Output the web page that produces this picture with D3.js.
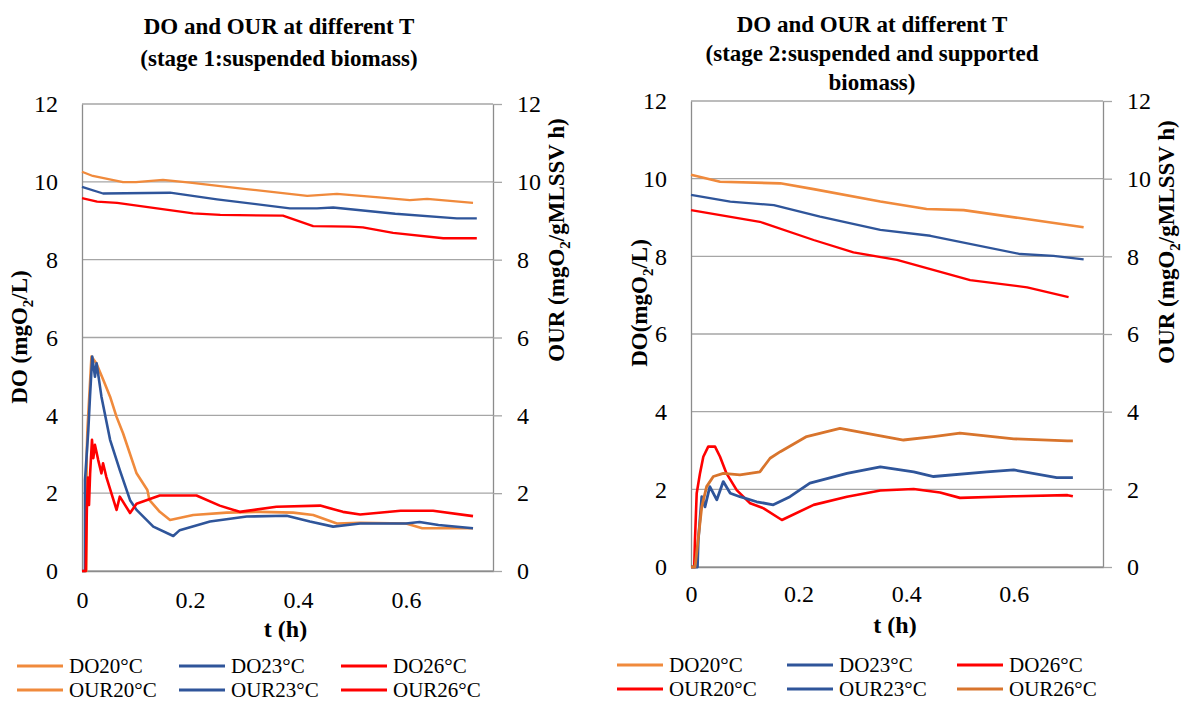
<!DOCTYPE html>
<html>
<head>
<meta charset="utf-8">
<script src="https://cdn.jsdelivr.net/npm/d3@7"></script>
<style>
  body { margin: 0; background: #fff; }
  svg { display: block; }
  svg text { font-family: "Liberation Serif", "Times New Roman", serif !important; }
</style>
</head>
<body>
<svg id="chart" width="1184" height="702"></svg>
<script>
// ---- data (t in h, value) ----
// stage 1 : suspended biomass
const s1DO20 = [[0,10.26],[0.02,10.15],[0.076,9.99],[0.10,9.99],[0.15,10.05],[0.20,9.98],[0.30,9.82],[0.417,9.64],[0.472,9.69],[0.55,9.60],[0.607,9.53],[0.639,9.56],[0.724,9.46]];
const s1DO23 = [[0,9.87],[0.039,9.70],[0.163,9.72],[0.25,9.55],[0.385,9.32],[0.435,9.32],[0.465,9.34],[0.58,9.18],[0.694,9.06],[0.731,9.06]];
const s1DO26 = [[0,9.58],[0.028,9.49],[0.065,9.46],[0.206,9.19],[0.256,9.15],[0.372,9.13],[0.428,8.86],[0.496,8.85],[0.52,8.83],[0.576,8.69],[0.669,8.55],[0.731,8.55]];
const s1OUR20 = [[0,0],[0.008,0],[0.0087,3.0],[0.010,3.62],[0.0175,5.51],[0.0265,5.34],[0.0395,4.91],[0.052,4.48],[0.064,3.96],[0.076,3.54],[0.101,2.51],[0.121,2.08],[0.125,1.82],[0.144,1.52],[0.163,1.31],[0.206,1.44],[0.268,1.50],[0.33,1.52],[0.391,1.50],[0.428,1.44],[0.472,1.22],[0.515,1.24],[0.60,1.22],[0.63,1.10],[0.724,1.10]];
const s1OUR23 = [[0,0],[0.0055,0],[0.0056,2.34],[0.0117,3.62],[0.0148,4.48],[0.019,5.51],[0.024,4.99],[0.027,5.34],[0.036,4.48],[0.052,3.37],[0.070,2.59],[0.089,1.82],[0.101,1.57],[0.132,1.14],[0.169,0.90],[0.181,1.05],[0.237,1.27],[0.305,1.40],[0.379,1.42],[0.422,1.27],[0.465,1.14],[0.515,1.22],[0.60,1.22],[0.625,1.26],[0.66,1.18],[0.724,1.10]];
const s1OUR26 = [[0,0],[0.007,0],[0.009,1.6],[0.011,2.4],[0.013,1.7],[0.015,2.5],[0.017,3.0],[0.0185,3.37],[0.021,2.9],[0.024,3.24],[0.03,2.85],[0.036,2.51],[0.039,2.77],[0.045,2.42],[0.064,1.57],[0.070,1.91],[0.089,1.49],[0.101,1.73],[0.144,1.94],[0.212,1.94],[0.255,1.68],[0.292,1.52],[0.36,1.65],[0.441,1.68],[0.483,1.52],[0.515,1.45],[0.59,1.55],[0.65,1.55],[0.724,1.41]];

// stage 2 : suspended and supported biomass
const s2DO20 = [[0,10.10],[0.054,9.92],[0.166,9.88],[0.228,9.73],[0.352,9.41],[0.438,9.22],[0.507,9.19],[0.614,8.98],[0.73,8.75]];
const s2DO23 = [[0,9.58],[0.073,9.41],[0.154,9.32],[0.24,9.02],[0.352,8.68],[0.445,8.53],[0.612,8.06],[0.674,8.01],[0.73,7.92]];
const s2DO26 = [[0,9.19],[0.128,8.89],[0.228,8.42],[0.302,8.10],[0.383,7.91],[0.519,7.39],[0.625,7.20],[0.702,6.95]];
const s2OUR20 = [[0,0],[0.006,0],[0.0074,0.7],[0.0106,1.9],[0.0167,2.41],[0.0229,2.84],[0.032,3.10],[0.0447,3.10],[0.054,2.84],[0.066,2.41],[0.085,1.98],[0.11,1.64],[0.135,1.51],[0.169,1.21],[0.228,1.60],[0.29,1.81],[0.352,1.97],[0.414,2.01],[0.463,1.92],[0.50,1.78],[0.60,1.82],[0.70,1.85],[0.71,1.82]];
const s2OUR23 = [[0,0],[0.012,0],[0.0136,0.7],[0.02,1.81],[0.026,1.55],[0.035,2.07],[0.048,1.73],[0.06,2.20],[0.073,1.90],[0.091,1.81],[0.122,1.68],[0.153,1.60],[0.184,1.81],[0.221,2.16],[0.29,2.41],[0.352,2.58],[0.414,2.45],[0.451,2.33],[0.55,2.45],[0.60,2.50],[0.68,2.30],[0.71,2.30]];
const s2OUR26 = [[0,0],[0.0074,0],[0.010,0.3],[0.02,1.55],[0.029,2.07],[0.0415,2.33],[0.06,2.41],[0.091,2.37],[0.128,2.45],[0.147,2.80],[0.166,2.97],[0.215,3.36],[0.277,3.57],[0.327,3.44],[0.395,3.27],[0.451,3.36],[0.50,3.45],[0.60,3.30],[0.70,3.25],[0.71,3.25]];

const yTicks = [0, 2, 4, 6, 8, 10, 12];
const xTicks = [0, 0.2, 0.4, 0.6];

const orange = "#F08A3C", blue = "#2F559A", red = "#FF0000", darkOrange = "#D8742C";
const serif = "'Liberation Serif', 'Times New Roman', serif";

const svg = d3.select("#chart");

function drawPanel(p) {
  const x = d3.scaleLinear().domain([0, p.xMax]).range([p.left, p.right]);
  const y = d3.scaleLinear().domain([0, 12]).range([p.bottom, p.top]);
  const g = svg.append("g").style("font-family", serif);

  // gridlines
  g.selectAll(".grid").data(yTicks).enter().append("line")
    .attr("x1", p.left).attr("x2", p.right)
    .attr("y1", d => y(d)).attr("y2", d => y(d))
    .attr("stroke", "#A6A6A6").attr("stroke-width", 1.3);

  // axes
  const ax = g.append("g").attr("transform", "translate(" + p.left + ",0)")
    .call(d3.axisLeft(y).tickValues(yTicks).tickSize(0).tickPadding(24));
  const ax2 = g.append("g").attr("transform", "translate(" + p.right + ",0)")
    .call(d3.axisRight(y).tickValues(yTicks).tickSizeInner(9).tickSizeOuter(0).tickPadding(15));
  const ax3 = g.append("g").attr("transform", "translate(0," + p.bottom + ")")
    .call(d3.axisBottom(x).tickValues(xTicks).tickFormat(d => d === 0 ? "0" : d3.format(".1f")(d)).tickSize(0).tickPadding(p.xPad));
  [ax, ax2, ax3].forEach(a => {
    a.attr("font-family", null).style("font-family", serif);
    a.select(".domain").attr("stroke", "#8C8C8C").attr("stroke-width", 1.3);
    a.selectAll(".tick line").attr("stroke", "#A6A6A6").attr("stroke-width", 1.3);
    a.selectAll("text").style("font-family", serif).attr("font-size", 24).attr("fill", "#000");
  });

  // series
  const line = d3.line().x(d => x(d[0])).y(d => y(d[1]));
  p.series.forEach(s => {
    g.append("path").datum(s.data)
      .attr("d", line)
      .attr("fill", "none")
      .attr("stroke", s.color)
      .attr("stroke-width", s.width)
      .attr("stroke-linejoin", "round");
  });

  // title
  const t = g.append("text").attr("text-anchor", "middle")
    .attr("font-weight", "bold").attr("font-size", 23);
  p.title.forEach((ln, i) => {
    t.append("tspan").attr("x", p.titleX).attr("y", p.titleY + i * p.titleDy).text(ln);
  });

  // axis titles
  function rotTitle(tx, ty, parts) {
    const el = g.append("text").attr("transform", "translate(" + tx + "," + ty + ") rotate(-90)")
      .attr("text-anchor", "middle").attr("font-weight", "bold").attr("font-size", 23);
    parts.forEach(pt => {
      const ts = el.append("tspan").text(pt[0]);
      if (pt[1]) ts.attr("font-size", 15).attr("dy", 6);
      if (pt[2]) ts.attr("dy", -6);
    });
  }
  rotTitle(p.ylX, p.ylY, p.ylParts);
  rotTitle(p.yrX, p.yrY, [["OUR (mgO"], ["2", true], ["/gMLSSV h)", false, true]]);

  g.append("text").attr("x", (p.left + p.right) / 2 - 2).attr("y", p.bottom + p.xtY)
    .attr("text-anchor", "middle").attr("font-weight", "bold").attr("font-size", 24).text("t (h)");

  // legend
  p.legend.forEach((l, i) => {
    const col = i % 3, row = Math.floor(i / 3);
    const lx = p.legX + col * p.legDx, ly = p.legY + row * p.legDy;
    g.append("line").attr("x1", lx).attr("x2", lx + 46).attr("y1", ly).attr("y2", ly)
      .attr("stroke", l.color).attr("stroke-width", 3);
    g.append("text").attr("x", lx + 52).attr("y", ly + 7).attr("font-size", 21).text(l.name);
  });
}

drawPanel({
  left: 82, right: 493, top: 104, bottom: 571, xMax: 0.761, xPad: 20, xtY: 66,
  title: ["DO and OUR at different T", "(stage 1:suspended biomass)"],
  titleX: 279, titleY: 34, titleDy: 32,
  ylX: 27, ylY: 337, ylParts: [["DO (mgO"], ["2", true], ["/L)", false, true]],
  yrX: 564, yrY: 240,
  series: [
    { data: s1DO20, color: orange, width: 2.3 },
    { data: s1DO23, color: blue, width: 2.3 },
    { data: s1DO26, color: red, width: 2.3 },
    { data: s1OUR20, color: orange, width: 2.6 },
    { data: s1OUR23, color: blue, width: 2.6 },
    { data: s1OUR26, color: red, width: 2.6 }
  ],
  legX: 17, legY: 666, legDx: 162, legDy: 24,
  legend: [
    { name: "DO20°C", color: orange }, { name: "DO23°C", color: blue }, { name: "DO26°C", color: red },
    { name: "OUR20°C", color: orange }, { name: "OUR23°C", color: blue }, { name: "OUR26°C", color: red }
  ]
});

drawPanel({
  left: 691, right: 1103, top: 101, bottom: 567, xMax: 0.766, xPad: 18, xtY: 66,
  title: ["DO and OUR at different T", "(stage 2:suspended and supported", "biomass)"],
  titleX: 872, titleY: 32, titleDy: 29,
  ylX: 647, ylY: 303, ylParts: [["DO(mgO"], ["2", true], ["/L)", false, true]],
  yrX: 1174, yrY: 242,
  series: [
    { data: s2DO20, color: orange, width: 2.6 },
    { data: s2DO23, color: blue, width: 2.3 },
    { data: s2DO26, color: red, width: 2.3 },
    { data: s2OUR20, color: red, width: 2.6 },
    { data: s2OUR23, color: blue, width: 2.8 },
    { data: s2OUR26, color: darkOrange, width: 2.8 }
  ],
  legX: 617, legY: 665, legDx: 170, legDy: 24,
  legend: [
    { name: "DO20°C", color: orange }, { name: "DO23°C", color: blue }, { name: "DO26°C", color: red },
    { name: "OUR20°C", color: red }, { name: "OUR23°C", color: blue }, { name: "OUR26°C", color: darkOrange }
  ]
});
</script>
</body>
</html>
